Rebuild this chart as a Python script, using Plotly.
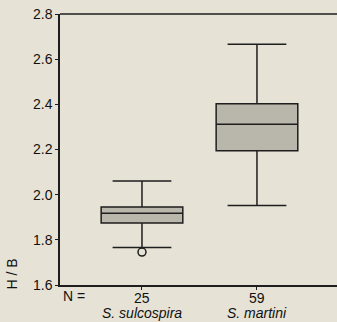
import plotly.graph_objects as go

categories = ["S. sulcospira", "S. martini"]
n_values = [25, 59]
lower_whisker = [1.766, 1.952]
q1 = [1.874, 2.194]
median = [1.918, 2.312]
q3 = [1.945, 2.403]
upper_whisker = [2.061, 2.666]
outliers_x = ["S. sulcospira"]
outliers_y = [1.746]
y_ticks = [1.6, 1.8, 2.0, 2.2, 2.4, 2.6, 2.8]

bg = "#e6e2d5"
line_col = "#1e1e1e"
font = "Liberation Sans, Arial, sans-serif"

fig = go.Figure()
fig.add_trace(go.Box(
    x=categories,
    q1=q1, median=median, q3=q3,
    lowerfence=lower_whisker, upperfence=upper_whisker,
    fillcolor="#b9b7ab",
    line=dict(color=line_col, width=1.5),
    width=0.71,
    whiskerwidth=0.72,
    boxpoints=False,
    showlegend=False,
    hoverinfo="skip",
))
fig.add_trace(go.Scatter(
    x=outliers_x, y=outliers_y, mode="markers",
    marker=dict(symbol="circle-open", size=8, color=line_col, line=dict(width=1.5)),
    showlegend=False, hoverinfo="skip",
))

fig.update_layout(
    width=337, height=322,
    margin=dict(l=60, r=0, t=14, b=37),
    paper_bgcolor=bg, plot_bgcolor=bg,
    font=dict(family=font, size=14, color="#111"),
    xaxis=dict(
        range=[-0.713, 1.696],
        showticklabels=False,
        ticks="outside", ticklen=3, tickcolor=line_col,
        showline=True, linecolor=line_col, linewidth=1.5,
        mirror=False, showgrid=False, zeroline=False,
        fixedrange=True,
    ),
    yaxis=dict(
        range=[1.6, 2.8],
        tickvals=y_ticks,
        ticktext=[f"{v:.1f}" for v in y_ticks],
        ticks="outside", ticklen=3, tickcolor=line_col,
        showline=True, linecolor=line_col, linewidth=1.5,
        showgrid=False, zeroline=False,
        tickfont=dict(size=14),
    ),
    shapes=[dict(type="line", xref="paper", yref="paper", x0=0, x1=1, y0=1, y1=1,
                 line=dict(color=line_col, width=1.5))],
)

fig.add_annotation(text="H / B", xref="paper", yref="paper", x=-0.172, y=0.04,
                   textangle=-90, showarrow=False, font=dict(size=14),
                   xanchor="center", yanchor="middle")
fig.add_annotation(text="N =", xref="paper", yref="paper", x=0.007, y=-0.008,
                   showarrow=False, xanchor="left", yanchor="top", font=dict(size=14),
                   borderpad=0)
for cat, n in zip(categories, n_values):
    fig.add_annotation(text=str(n), x=cat, xref="x", yref="paper", y=-0.013,
                       showarrow=False, yanchor="top", font=dict(size=14), borderpad=0)
    fig.add_annotation(text=f"<i>{cat}</i>", x=cat, xref="x", yref="paper", y=-0.1365,
                       showarrow=False, yanchor="bottom", font=dict(size=14), borderpad=0)

fig.write_html("out.html", config={"displayModeBar": False},
               post_script="document.body.style.margin='0';document.body.style.background='%s';" % bg)
